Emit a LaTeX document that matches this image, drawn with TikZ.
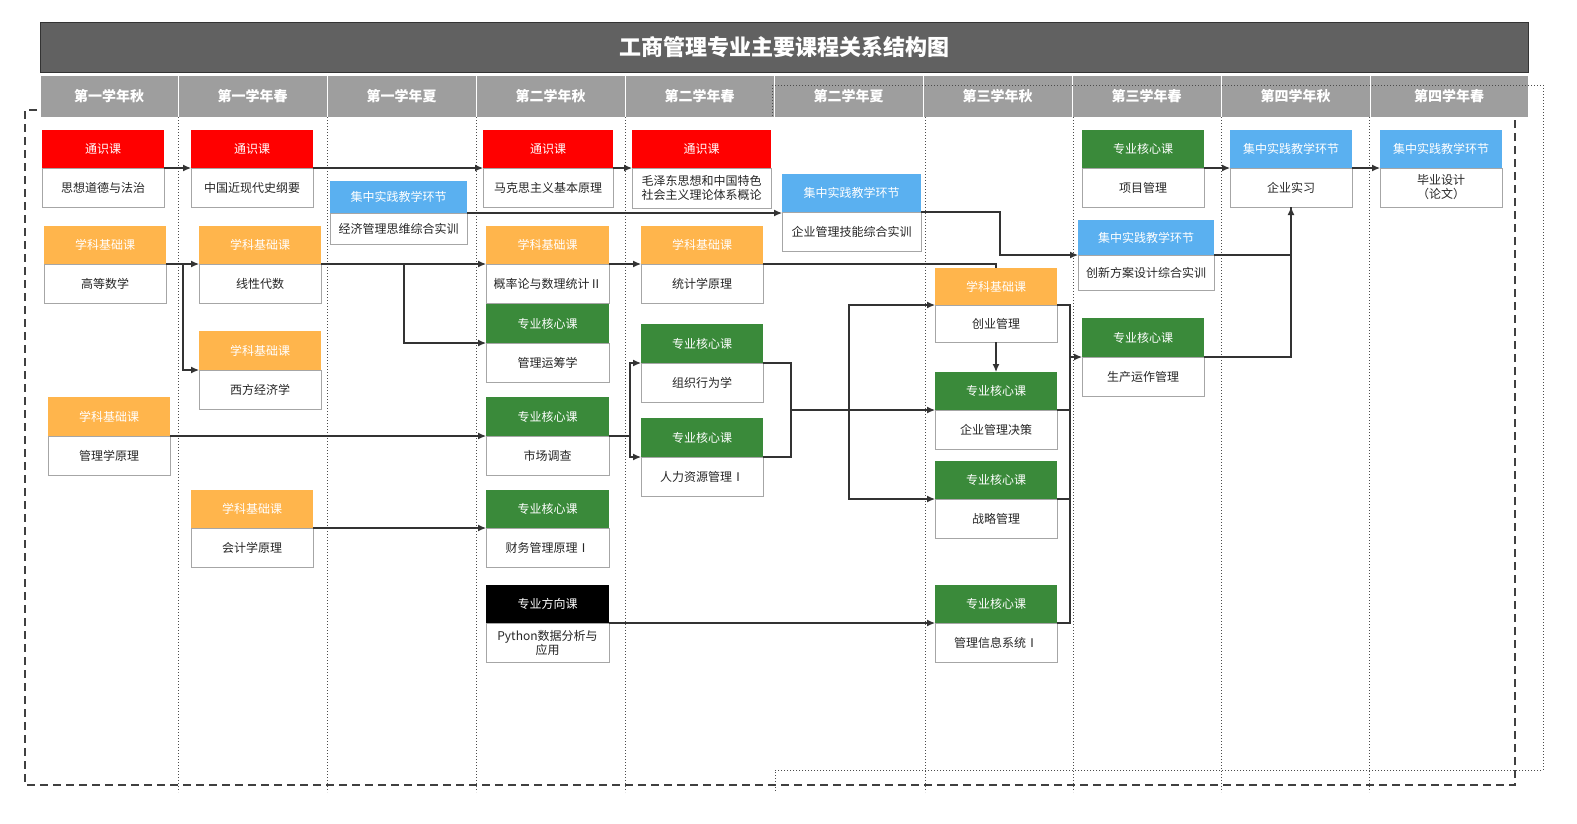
\documentclass[tikz,border=0pt]{standalone}
\usepackage{fontspec}
\setmainfont{Noto Sans CJK SC}
\usetikzlibrary{arrows.meta}
\definecolor{cred}{HTML}{FF0000}
\definecolor{corg}{HTML}{FFB54C}
\definecolor{cgrn}{HTML}{3A8A3A}
\definecolor{cblu}{HTML}{5AB0F0}
\definecolor{cblk}{HTML}{000000}
\definecolor{ln}{HTML}{333333}
\tikzset{
 hd/.style={inner sep=0pt,outer sep=0pt,text=white,font=\fontsize{12}{14}\selectfont,align=center},
 bd/.style={inner sep=0pt,outer sep=0pt,draw=gray!70,line width=1pt,fill=white,text=black!85,font=\fontsize{12}{14}\selectfont,align=center},
 arr/.style={draw=ln,line width=1.2pt,-{Latex[length=8pt,width=7pt]}},
 ln/.style={draw=ln,line width=1.2pt},
 col/.style={draw=black!70,line width=1pt,dotted},
 hdr/.style={fill=black!38,draw=white,line width=1pt,text=white,font=\fontsize{14}{16}\selectfont\bfseries,inner sep=0pt,outer sep=0pt}
}
\newcommand\crs[9]{%
 \node[hd,fill=#7,minimum width=\dimexpr#3pt-#2pt\relax,minimum height=\dimexpr#5pt-#4pt\relax] (#1h) at ({(#2+#3)/2},{(#4+#5)/2}) {#8};
 \node[bd,minimum width=\dimexpr#3pt-#2pt\relax,minimum height=\dimexpr#6pt-#5pt\relax] (#1b) at ({(#2+#3)/2},{(#5+#6)/2}) {#9};}
\begin{document}
\begin{tikzpicture}[x=1pt,y=-1pt]
\useasboundingbox (0,0) rectangle (1577,823);
\fill[white] (0,0) rectangle (1577,823);
% title
\node[fill=black!62,draw=black!80,line width=1pt,minimum width=1488pt,minimum height=50pt,inner sep=0pt,text=white,font=\fontsize{22}{24}\selectfont\bfseries] (title) at (784,47) {工商管理专业主要课程关系结构图};
% headers
\foreach \a/\b/\t [count=\i] in {40/178/第一学年秋,178/327/第一学年春,327/476/第一学年夏,476/625/第二学年秋,625/774/第二学年春,774/923/第二学年夏,923/1072/第三学年秋,1072/1221/第三学年春,1221/1370/第四学年秋,1370/1528/第四学年春}
 \node[hdr,minimum width=\b pt-\a pt,minimum height=42pt] (h\i) at ({(\a+\b)/2},96) {\t};
% column lines
\foreach \x in {178,327,476,625,925,1073,1221,1369}
 \draw[col] (\x,117) -- (\x,792);
\draw[col] (772,85) -- (1543,85) -- (1543,770) -- (775,770) -- (775,792);
\draw[col] (772,85) -- (772,117);
\draw[black!75,line width=1.2pt,dash pattern=on 8pt off 5pt] (37,110) -- (25,110) -- (25,785) -- (1515,785) -- (1515,117);
% courses
\crs{sx}{42}{164}{130}{168}{207}{cred}{通识课}{思想道德与法治}
\crs{gs}{44}{166}{226}{264}{303}{corg}{学科基础课}{高等数学}
\crs{gly}{48}{170}{397}{436}{475}{corg}{学科基础课}{管理学原理}
\crs{zg}{191}{313}{130}{168}{207}{cred}{通识课}{中国近现代史纲要}
\crs{xx}{199}{321}{226}{264}{303}{corg}{学科基础课}{线性代数}
\crs{xf}{199}{321}{331}{370}{409}{corg}{学科基础课}{西方经济学}
\crs{kj}{191}{313}{490}{528}{567}{corg}{学科基础课}{会计学原理}
\crs{jj}{330}{467}{181}{213}{244}{cblu}{集中实践教学环节}{经济管理思维综合实训}
\crs{mk}{483}{613}{130}{168}{207}{cred}{通识课}{马克思主义基本原理}
\crs{gl}{486}{609}{226}{264}{303}{corg}{学科基础课}{概率论与数理统计Ⅱ}
\crs{yc}{486}{609}{304}{343}{382}{cgrn}{专业核心课}{管理运筹学}
\crs{sc}{486}{609}{397}{436}{475}{cgrn}{专业核心课}{市场调查}
\crs{cw}{486}{609}{490}{528}{567}{cgrn}{专业核心课}{财务管理原理Ⅰ}
\crs{py}{486}{609}{585}{623}{662}{cblk}{专业方向课}{Python数据分析与\\应用}
\crs{mz}{632}{771}{130}{168}{208}{cred}{通识课}{毛泽东思想和中国特色\\社会主义理论体系概论}
\crs{tj}{641}{763}{226}{264}{303}{corg}{学科基础课}{统计学原理}
\crs{zz}{641}{763}{324}{363}{402}{cgrn}{专业核心课}{组织行为学}
\crs{rl}{641}{763}{418}{457}{496}{cgrn}{专业核心课}{人力资源管理Ⅰ}
\crs{qy}{782}{921}{174}{212}{251}{cblu}{集中实践教学环节}{企业管理技能综合实训}
\crs{cy}{935}{1057}{268}{305}{342}{corg}{学科基础课}{创业管理}
\crs{qj}{935}{1057}{372}{410}{449}{cgrn}{专业核心课}{企业管理决策}
\crs{zl}{935}{1057}{461}{499}{538}{cgrn}{专业核心课}{战略管理}
\crs{gx}{935}{1057}{585}{623}{662}{cgrn}{专业核心课}{管理信息系统Ⅰ}
\crs{xm}{1082}{1204}{130}{168}{207}{cgrn}{专业核心课}{项目管理}
\crs{cx}{1078}{1214}{220}{255}{290}{cblu}{集中实践教学环节}{创新方案设计综合实训}
\crs{scy}{1082}{1204}{318}{357}{396}{cgrn}{专业核心课}{生产运作管理}
\crs{sxx}{1230}{1352}{130}{168}{207}{cblu}{集中实践教学环节}{企业实习}
\crs{by}{1380}{1502}{130}{168}{207}{cblu}{集中实践教学环节}{毕业设计\\（论文）}
% connectors
\draw[arr] (sxb.north east) -- (sxb.north east -| zgb.west);
\draw[arr] (zgb.north east) -- (zgb.north east -| mkb.west);
\draw[arr] (mkb.north east) -- (mkb.north east -| mzb.west);
\draw[arr] (jjb.north east) -- (jjb.north east -| qyb.west);
\draw[arr] (gsb.north east) -- (gsb.north east -| xxb.west);
\draw[arr] (gsb.north east) -- ++(17,0) |- (xfb.north west);
\draw[arr] (xxb.north east) -- (xxb.north east -| glb.west);
\draw[arr] (xxb.north east) -- ++(83,0) |- (ycb.north west);
\draw[arr] (glb.north east) -- (glb.north east -| tjb.west);
\draw[ln] (tjb.north east) -| (cyh.north);
\draw[arr] (glyb.north east) -- (glyb.north east -| scb.west);
\draw[ln] (scb.north east) -- ++(21,0) coordinate (t1);
\draw[arr] (t1) |- (zzb.north west);
\draw[arr] (t1) |- (rlb.north west);
\draw[arr] (kjb.north east) -- (kjb.north east -| cwb.west);
\draw[ln] (zzb.north east) -- ++(28,0) |- (rlb.north east);
\coordinate (j1) at (791,410);
\coordinate (j2) at (849,410);
\draw[arr] (j1) -- (qjb.north west);
\draw[arr] (j2) |- (cyb.north west);
\draw[arr] (j2) |- (zlb.north west);
\draw[arr] (cyb.south) -- (qjh.north);
\draw[arr] (pyb.north east) -- (pyb.north east -| gxb.west);
\draw[ln] (cyb.north east) -- ++(13,0) |- (gxb.north east);
\draw[ln] (qjb.north east) -- ++(13,0);
\draw[ln] (zlb.north east) -- ++(13,0);
\coordinate (k1) at (1070,357);
\draw[arr] (k1) -- (scyb.north west);
\draw[arr] (qyb.north east) -- ++(79,0) |- (cxb.north west);
\draw[arr] (xmb.north east) -- (xmb.north east -| sxxb.west);
\draw[arr] (sxxb.north east) -- (sxxb.north east -| byb.west);
\draw[arr] (cxb.north east) -| (sxxb.south);
\draw[ln] (scyb.north east) -| (sxxb.south);
\end{tikzpicture}
\end{document}
